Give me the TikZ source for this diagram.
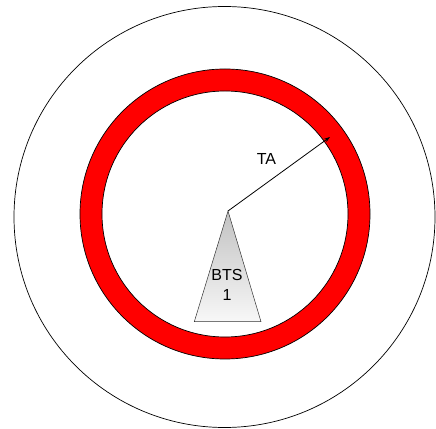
\documentclass[tikz,border=0pt]{standalone}
\usepackage{fontspec}
\setmainfont{Liberation Sans}
\usetikzlibrary{arrows.meta}

\begin{document}
\begin{tikzpicture}[x=1pt,y=1pt,
  ring/.style={draw=black,line width=0.7pt,fill=red,even odd rule},
  bts/.style={draw=black!80,line width=0.5pt,top color=black!24,bottom color=black!3},
  lbl/.style={font=\fontsize{16}{20}\selectfont,align=center,inner sep=0pt}]
\useasboundingbox (0,0) rectangle (436,428);
\draw [line width=0.7pt] (224.5,211) circle (210.5);
\draw [ring] (225,214) circle (145) (225,214) circle (123);
\coordinate (apex) at (228,217);
\coordinate (tip) at (330,291);
\draw [bts] (apex)--(261,106.3)--(194.3,106.3)--cycle;
\node [lbl] (btslabel) at (227,143) {BTS\\1};
\draw [line width=0.8pt,-{Stealth[length=6pt,width=4pt]}] (apex)--(tip);
\node [lbl] (ta) at (266.5,269) {TA};
\end{tikzpicture}
\end{document}
